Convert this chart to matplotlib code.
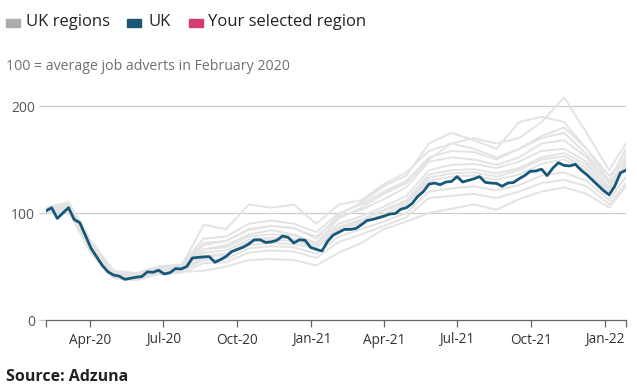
import matplotlib
matplotlib.use("Agg")
import matplotlib.pyplot as plt
from matplotlib.patches import Rectangle
import pandas as pd

plt.rcParams['font.family'] = ['Open Sans', 'DejaVu Sans']

# weekly index, 100 = average job adverts in February 2020
weeks = pd.date_range("2020-02-06", periods=104, freq="7D")

uk = [102, 105, 95, 100, 105, 94, 91, 79, 67, 59,
      51, 45, 42, 41, 38, 39, 40, 40.6, 45, 44.6,
      46.5, 43, 44.2, 48, 47.7, 50, 58, 58.5, 59, 59.2,
      54, 56.5, 59.5, 64, 66, 68, 71, 75, 75, 72.5,
      73, 74.5, 78.5, 77.3, 72, 75, 74.5, 67.8, 66, 64.5,
      73.5, 79.4, 82, 84.7, 84.7, 85.5, 89, 93, 94, 95.5,
      97, 99, 99.5, 103.5, 105, 108.8, 115.5, 120, 127, 128,
      126.5, 129, 129.5, 134, 129, 130.5, 132, 134, 128.7, 128,
      127.7, 125, 128, 128.5, 132, 135, 139, 139.3, 141, 135,
      142, 147, 144.5, 144, 145.5, 140.2, 136, 131, 126, 121,
      117, 125, 137.5, 140]

# regional series, read every fourth week (plus the last week)
region_idx = list(range(0, 101, 4)) + [103]
region_weeks = weeks[region_idx]

regions = {
    "A": [101, 108, 70, 43, 41, 48, 50, 66, 70, 80, 84, 80, 72, 95, 105, 118, 128, 150, 165, 170, 165, 170, 185, 208, 175, 140, 165],
    "B": [103, 107, 71, 44, 42, 48, 50, 70, 74, 84, 88, 86, 76, 98, 110, 125, 135, 165, 175, 168, 160, 185, 190, 185, 160, 135, 150],
    "C": [104, 110, 73, 45, 43, 49, 50, 89, 85, 108, 105, 108, 90, 108, 112, 127, 138, 158, 165, 160, 152, 160, 170, 175, 155, 128, 145],
    "D": [100, 103, 64, 40, 38, 43, 45, 46, 50, 56, 57, 56, 51, 63, 72, 85, 92, 100, 104, 108, 103, 113, 120, 124, 118, 105, 125],
    "E": [104, 107, 70, 44, 41, 48, 50, 66, 68, 78, 80, 79, 72, 90, 97, 106, 116, 140, 145, 146, 142, 148, 158, 160, 148, 120, 148],
    "F": [103, 109, 72, 45, 43, 49, 51, 72, 74, 85, 88, 86, 78, 96, 103, 113, 124, 148, 152, 150, 145, 152, 165, 168, 152, 124, 155],
    "G": [101, 104, 65, 40, 38, 44, 46, 56, 57, 67, 69, 68, 62, 78, 85, 92, 100, 120, 123, 125, 121, 126, 135, 138, 130, 112, 134],
    "H": [100, 102, 62, 39, 37, 43, 44, 53, 54, 63, 65, 64, 58, 73, 80, 88, 96, 114, 116, 118, 114, 120, 128, 131, 125, 108, 128],
    "I": [102, 106, 68, 42, 40, 46, 47, 60, 62, 73, 75, 74, 68, 84, 91, 99, 108, 130, 134, 135, 131, 136, 146, 150, 140, 119, 143],
    "J": [103, 106, 69, 43, 41, 47, 49, 63, 65, 75, 77, 76, 70, 87, 94, 103, 112, 136, 140, 141, 137, 142, 152, 156, 145, 122, 146],
    "K": [99, 103, 63, 41, 39, 45, 47, 58, 61, 70, 72, 71, 67, 85, 93, 102, 110, 133, 137, 138, 134, 140, 150, 153, 142, 118, 150],
    "L": [105, 110, 74, 46, 44, 50, 52, 76, 78, 90, 93, 90, 82, 100, 108, 120, 130, 152, 158, 157, 150, 160, 172, 180, 160, 130, 160],
}

tick_dates = pd.to_datetime(["2020-04-01", "2020-07-01", "2020-10-01", "2021-01-01",
                             "2021-04-01", "2021-07-01", "2021-10-01", "2022-01-01"])
tick_labels = ["Apr-20", "Jul-20", "Oct-20", "Jan-21", "Apr-21", "Jul-21", "Oct-21", "Jan-22"]

W, H = 637, 390
fig = plt.figure(figsize=(W / 100, H / 100), dpi=100)
ax = fig.add_axes([46 / W, 70 / H, 580 / W, 230 / H])

for name, vals in regions.items():
    ax.plot(region_weeks, vals, color="#e3e3e3", lw=1.4, zorder=2)
ax.plot(weeks, uk, color="#17577a", lw=2.0, zorder=3)

ax.set_xlim(weeks[0], weeks[-1])
ax.set_ylim(0, 215)
ax.set_yticks([0, 100, 200])
ax.set_yticklabels(["0", "100", "200"])
ax.set_xticks(tick_dates)
ax.set_xticklabels(tick_labels)
ax.set_xticks([weeks[0], weeks[-1]], minor=True)

for y in [100, 200]:
    ax.axhline(y, color="#cccccc", lw=0.9, zorder=1)

for s in ["top", "right", "left"]:
    ax.spines[s].set_visible(False)
ax.spines["bottom"].set_color("#666666")
ax.spines["bottom"].set_linewidth(0.9)

ax.tick_params(axis="y", length=5, color="#cccccc", width=0.9, pad=3,
               labelsize=10, labelcolor="#555555")
ax.yaxis.get_major_ticks()[0].tick1line.set_color("#666666")
ax.tick_params(axis="x", which="both", length=5, color="#666666", width=0.9,
               pad=4, labelsize=9.8, labelcolor="#333333")

# legend
items = [("UK regions", "#a9adb0", 6, 26), ("UK", "#1b5677", 127, 148),
         ("Your selected region", "#d63d6f", 189, 208)]
for label, col, sx, tx in items:
    fig.patches.append(Rectangle((sx / W, 1 - 27 / H), 14 / W, 8 / H,
                                 transform=fig.transFigure, color=col))
    fig.text(tx / W, 1 - 22 / H, label, fontsize=12, color="#222222",
             va="center", ha="left")

fig.text(6 / W, 1 - 66 / H, "100 = average job adverts in February 2020",
         fontsize=10.2, color="#707070", va="center", ha="left")
fig.text(6 / W, 1 - 377 / H, "Source: Adzuna", fontsize=11.5,
         fontweight="bold", color="#222222", va="center", ha="left")

fig.savefig("out.png", dpi=100)
